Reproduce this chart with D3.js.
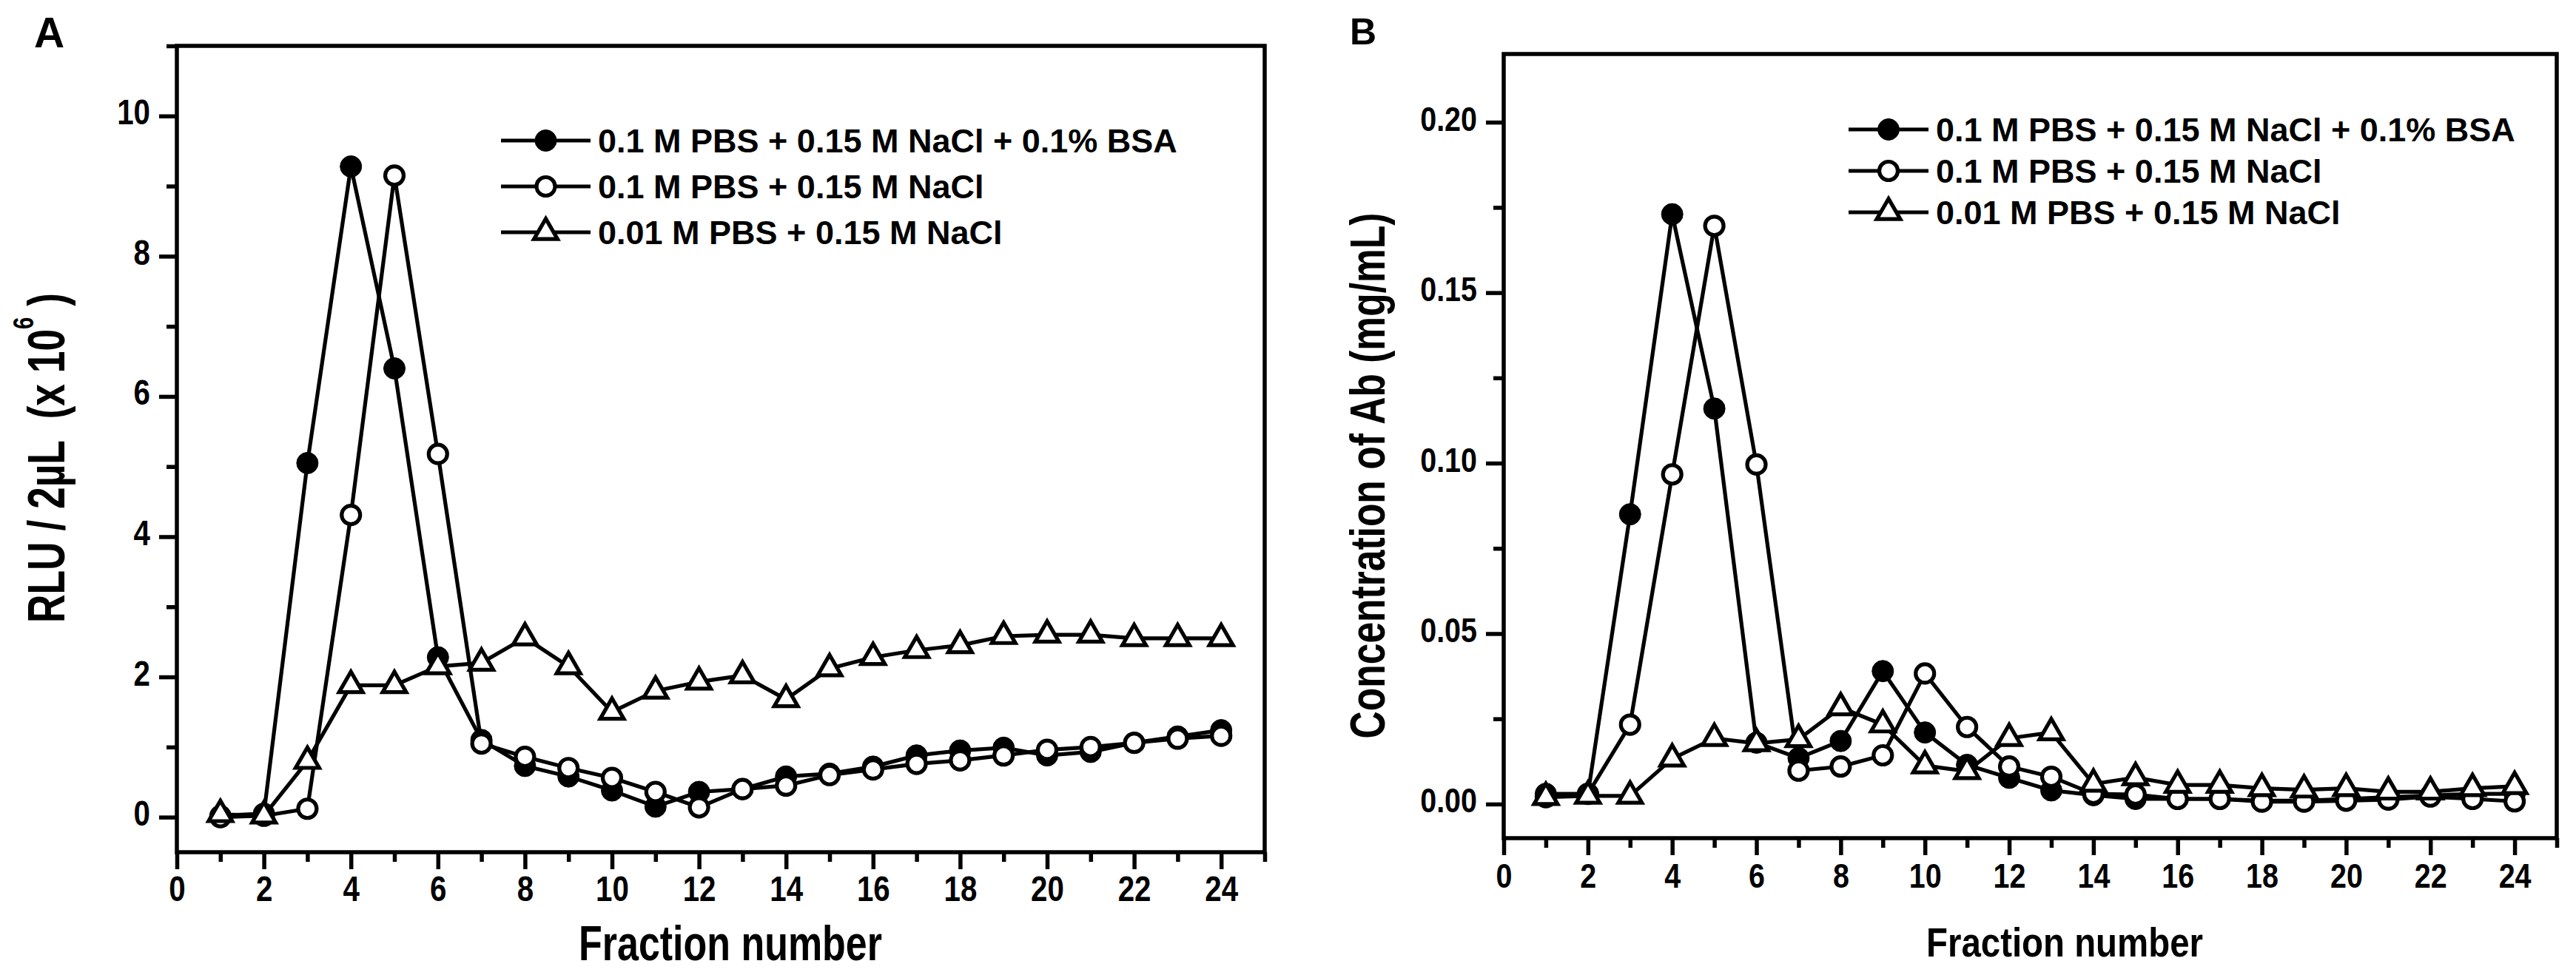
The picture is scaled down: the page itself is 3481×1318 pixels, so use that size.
<!DOCTYPE html>
<html>
<head>
<meta charset="utf-8">
<script src="https://cdn.jsdelivr.net/npm/d3@7"></script>
<style>
html, body { margin: 0; padding: 0; background: #fff; }
svg { display: block; }
</style>
</head>
<body>
<svg id="chart" width="3481" height="1318"></svg>
<script>
// fraction numbers (x categories)
const fractions = [1, 2, 3, 4, 5, 6, 7, 8, 9, 10, 11, 12, 13, 14, 15, 16, 17, 18, 19, 20, 21, 22, 23, 24];

// panel A : RLU / 2uL (x 10^6)
const rluBsa = [0.02, 0.05, 5.05, 9.28, 6.40, 2.28, 1.10, 0.73, 0.58, 0.38, 0.15, 0.36, 0.40, 0.58, 0.62, 0.72, 0.88, 0.95, 0.99, 0.88, 0.93, 1.06, 1.15, 1.24];
const rluPbs = [0.00, 0.02, 0.12, 4.31, 9.15, 5.18, 1.05, 0.86, 0.70, 0.56, 0.36, 0.14, 0.40, 0.45, 0.60, 0.68, 0.76, 0.81, 0.88, 0.96, 1.00, 1.06, 1.12, 1.16];
const rluLow = [0.04, 0.02, 0.80, 1.88, 1.88, 2.15, 2.20, 2.56, 2.15, 1.50, 1.80, 1.93, 2.02, 1.68, 2.12, 2.28, 2.38, 2.45, 2.58, 2.60, 2.60, 2.55, 2.55, 2.55];

// panel B : concentration of Ab (mg/mL)
const abBsa = [0.003, 0.003, 0.085, 0.173, 0.116, 0.018, 0.0135, 0.0185, 0.039, 0.021, 0.0115, 0.0077, 0.004, 0.0026, 0.0015, 0.0015, 0.0015, 0.001, 0.001, 0.0015, 0.002, 0.0025, 0.003, 0.003];
const abPbs = [0.002, 0.003, 0.0233, 0.0967, 0.1696, 0.0996, 0.0098, 0.011, 0.0143, 0.0383, 0.0226, 0.011, 0.008, 0.003, 0.0028, 0.0015, 0.0015, 0.0007, 0.0007, 0.001, 0.0013, 0.0022, 0.0015, 0.0008];
const abLow = [0.002, 0.0024, 0.0024, 0.0133, 0.0193, 0.0178, 0.019, 0.0283, 0.0233, 0.0113, 0.0096, 0.0193, 0.021, 0.0059, 0.0078, 0.0056, 0.0056, 0.0046, 0.0042, 0.0046, 0.0036, 0.0036, 0.0046, 0.0052];

const legendLabels = ["0.1 M PBS + 0.15 M NaCl + 0.1% BSA", "0.1 M PBS + 0.15 M NaCl", "0.01 M PBS + 0.15 M NaCl"];
const markerKinds = ["filled", "open", "triangle"];

const xTicks = [0, 1, 2, 3, 4, 5, 6, 7, 8, 9, 10, 11, 12, 13, 14, 15, 16, 17, 18, 19, 20, 21, 22, 23, 24, 25];
const xLabels = [0, 2, 4, 6, 8, 10, 12, 14, 16, 18, 20, 22, 24];
const yTicksA = [0, 1, 2, 3, 4, 5, 6, 7, 8, 9, 10, 11];
const yLabelsA = [0, 2, 4, 6, 8, 10];
const yTicksB = [0, 0.025, 0.05, 0.075, 0.1, 0.125, 0.15, 0.175, 0.2];
const yLabelsB = [0, 0.05, 0.1, 0.15, 0.2];

const font = "'Liberation Sans', Arial, Helvetica, sans-serif";
const lw = 5.5;      // frame / tick width
const seriesW = 5.2; // data line width
const narrow = 0.84; // tick labels look like a condensed face

const svg = d3.select("#chart")
    .attr("font-family", font)
    .attr("font-weight", "bold");

svg.append("rect").attr("width", 3481).attr("height", 1318).attr("fill", "#fff");

// squeeze a text group horizontally so it spans `target` px
function fitText(g, target) {
    const w = g.node().getBBox().width;
    const cur = g.attr("transform") || "";
    g.attr("transform", `${cur} scale(${target / w},1)`);
}

function drawMarker(g, kind, x, y) {
    if (kind === "triangle") {
        g.append("path")
            .attr("d", d3.symbol(d3.symbolTriangle, 440)())
            .attr("transform", `translate(${x},${y})`)
            .attr("fill", "#fff")
            .attr("stroke", "#000")
            .attr("stroke-width", seriesW)
            .attr("stroke-linejoin", "miter");
    } else {
        g.append("circle")
            .attr("cx", x).attr("cy", y)
            .attr("r", kind === "filled" ? 14.5 : 12.5)
            .attr("fill", kind === "filled" ? "#000" : "#fff")
            .attr("stroke", "#000")
            .attr("stroke-width", kind === "filled" ? 1 : seriesW);
    }
}

function panel(cfg) {
    const x = d3.scaleLinear().domain([0, 25]).range([cfg.left, cfg.right]);
    const y = d3.scaleLinear().domain(cfg.yDomain).range([cfg.bottom, cfg.top]);
    const g = svg.append("g");

    // x axis
    const gx = g.append("g")
        .attr("transform", `translate(0,${cfg.bottom})`)
        .call(d3.axisBottom(x).tickValues(xTicks).tickSizeOuter(0)
            .tickFormat(d => xLabels.includes(d) ? d : ""));
    gx.select(".domain").remove();
    gx.attr("font-size", cfg.tickFont).attr("font-family", null);
    gx.selectAll(".tick line")
        .attr("stroke-width", lw)
        .attr("y2", d => d % 2 === 0 ? 23 : 13);
    gx.selectAll(".tick text")
        .attr("y", cfg.xLabelDy).attr("dy", null)
        .attr("transform", `scale(${narrow},1)`);

    // y axis
    const gy = g.append("g")
        .attr("transform", `translate(${cfg.left},0)`)
        .call(d3.axisLeft(y).tickValues(cfg.yTicks).tickSizeOuter(0)
            .tickFormat(d => cfg.yLabels.some(v => Math.abs(v - d) < 1e-9) ? cfg.fmt(d) : ""));
    gy.select(".domain").remove();
    gy.attr("font-size", cfg.tickFont).attr("font-family", null);
    gy.selectAll(".tick line")
        .attr("stroke-width", lw)
        .attr("x2", d => cfg.yLabels.some(v => Math.abs(v - d) < 1e-9) ? -24 : -14);
    gy.selectAll(".tick text")
        .attr("x", -36 / narrow).attr("dy", null).attr("y", 11)
        .attr("transform", `scale(${narrow},1)`);

    // frame
    g.append("rect")
        .attr("x", cfg.left).attr("y", cfg.top)
        .attr("width", cfg.right - cfg.left).attr("height", cfg.bottom - cfg.top)
        .attr("fill", "none").attr("stroke", "#000").attr("stroke-width", lw);

    // series: line then symbols, one series at a time
    const line = d3.line().x((d, i) => x(fractions[i])).y(d => y(d));
    cfg.series.forEach((vals, s) => {
        g.append("path")
            .attr("d", line(vals))
            .attr("fill", "none")
            .attr("stroke", "#000")
            .attr("stroke-width", seriesW)
            .attr("stroke-linejoin", "round");
        vals.forEach((v, i) => drawMarker(g, markerKinds[s], x(fractions[i]), y(v)));
    });

    // legend
    const lg = g.append("g");
    legendLabels.forEach((txt, i) => {
        const ry = cfg.legend.y0 + i * cfg.legend.step;
        lg.append("line")
            .attr("x1", cfg.legend.x1).attr("x2", cfg.legend.x2)
            .attr("y1", ry).attr("y2", ry)
            .attr("stroke", "#000").attr("stroke-width", seriesW);
        drawMarker(lg, markerKinds[i], (cfg.legend.x1 + cfg.legend.x2) / 2, ry);
        lg.append("text")
            .attr("x", cfg.legend.x2 + 10).attr("y", ry + 16)
            .attr("font-size", 45)
            .text(txt);
    });

    // x title
    const xt = g.append("g").attr("transform", `translate(${cfg.xTitle.x},${cfg.xTitle.y})`);
    xt.append("text").attr("text-anchor", "middle").attr("font-size", cfg.xTitle.size).text("Fraction number");
    fitText(xt, cfg.xTitle.len);

    // y title
    const yt = g.append("g").attr("transform", `translate(${cfg.yTitle.x},${cfg.yTitle.y}) rotate(-90)`);
    const t = yt.append("text").attr("text-anchor", "middle").attr("font-size", cfg.yTitle.size);
    cfg.yTitle.parts.forEach(p => {
        t.append("tspan")
            .attr("font-size", p.sup ? cfg.yTitle.size * 0.55 : null)
            .attr("dy", p.dy || null)
            .text(p.text);
    });
    fitText(yt, cfg.yTitle.len);

    // panel letter
    g.append("text")
        .attr("x", cfg.letter.x).attr("y", cfg.letter.y)
        .attr("font-size", cfg.letter.size)
        .text(cfg.letter.text);
}

panel({
    left: 239, right: 1709, top: 62, bottom: 1152,
    yDomain: [-0.5, 11], yTicks: yTicksA, yLabels: yLabelsA, fmt: d3.format("d"),
    tickFont: 48, xLabelDy: 66,
    series: [rluBsa, rluPbs, rluLow],
    legend: { x1: 677, x2: 798, y0: 190, step: 62 },
    xTitle: { x: 987, y: 1298, size: 67, len: 410 },
    yTitle: { x: 87, y: 619, size: 70, len: 446, parts: [
        { text: "RLU / 2\u00b5L \u00a0(x 10" },
        { text: "6", sup: true, dy: -42 },
        { text: " )", dy: 42 }
    ] },
    letter: { x: 46, y: 64, size: 57, text: "A" }
});

panel({
    left: 2032, right: 3455, top: 73, bottom: 1133,
    yDomain: [-0.01, 0.22], yTicks: yTicksB, yLabels: yLabelsB, fmt: d3.format(".2f"),
    tickFont: 47, xLabelDy: 67,
    series: [abBsa, abPbs, abLow],
    legend: { x1: 2498, x2: 2606, y0: 175, step: 56 },
    xTitle: { x: 2790, y: 1293, size: 56, len: 374 },
    yTitle: { x: 1871, y: 643, size: 66, len: 711, parts: [
        { text: "Concentration of Ab (mg/mL)" }
    ] },
    letter: { x: 1824, y: 60, size: 50, text: "B" }
});
</script>
</body>
</html>
